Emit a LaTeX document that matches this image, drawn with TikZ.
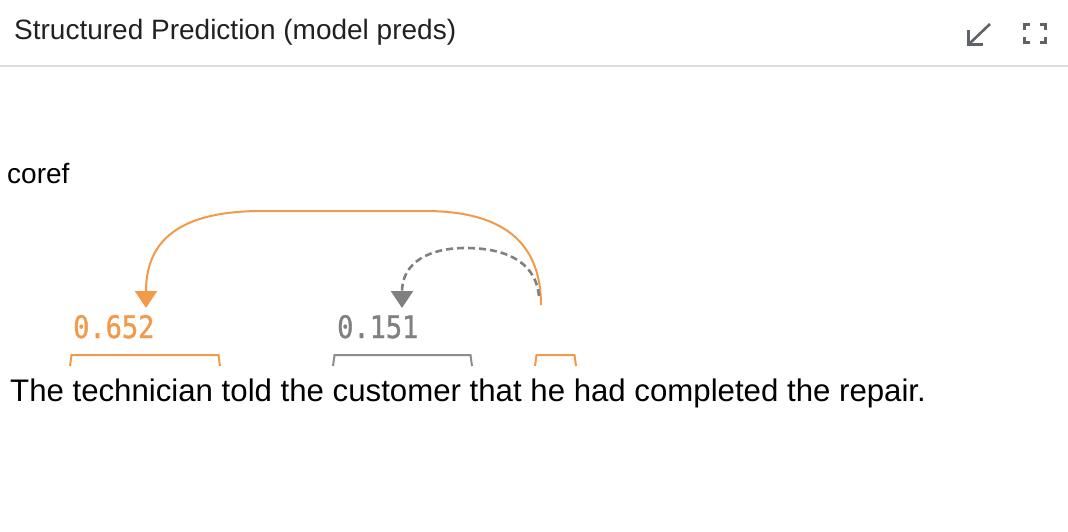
\documentclass[tikz,border=0pt]{standalone}
\usepackage{fontspec}
\setmainfont{Liberation Sans}
\newfontfamily\monofont[FakeStretch=0.87,FakeBold=1]{DejaVu Sans Mono}
\usetikzlibrary{arrows.meta}
\definecolor{corange}{HTML}{F2994A}
\definecolor{cgray}{HTML}{808080}
\definecolor{cicon}{HTML}{5F6368}
\definecolor{ctitle}{HTML}{202124}
\definecolor{csep}{HTML}{DADCE0}
\tikzset{
  txt/.style={inner sep=0pt, anchor=base west},
  score/.style={inner sep=0pt, anchor=base west, font=\monofont\fontsize{31}{34}\selectfont},
  spanbracket/.style={line width=2pt, line join=miter},
  orangearc/.style={draw=corange, line width=2pt, -{Triangle[length=17pt,width=22pt]}},
  grayarc/.style={draw=cgray, line width=2.6pt, dash pattern=on 7pt off 4pt, -{Triangle[length=17pt,width=22pt]}},
  iconline/.style={draw=cicon, line width=2.6pt}
}
\begin{document}
\begin{tikzpicture}[x=1pt,y=-1pt]
\useasboundingbox (0,0) rectangle (1068,532);
% header
\node[txt, text=ctitle, font=\fontsize{28}{32}\selectfont] (title) at (14,40) {Structured Prediction (model preds)};
\draw[csep, line width=2pt] (0,66) -- (1068,66);
% collapse icon
\draw[iconline] (990,24) -- (969,44);
\draw[iconline, line cap=butt] (968.5,30) -- (968.5,44.5) -- (983,44.5);
% fullscreen icon
\draw[iconline] (1024.5,30) -- (1024.5,24.5) -- (1030,24.5);
\draw[iconline] (1040,24.5) -- (1045.5,24.5) -- (1045.5,30);
\draw[iconline] (1024.5,37) -- (1024.5,42.5) -- (1030,42.5);
\draw[iconline] (1040,42.5) -- (1045.5,42.5) -- (1045.5,37);
% label
\node[txt, font=\fontsize{28}{32}\selectfont] (coref) at (7,183) {coref};
% sentence
\node[txt, font=\fontsize{31.2}{36}\selectfont] (sent) at (10,401) {The technician told the customer that he had completed the repair.};
% span brackets
\draw[spanbracket, corange] (70,366) -- (71.5,355) -- (218.5,355) -- (220,366);
\draw[spanbracket, cgray!90] (333,366) -- (334.5,355) -- (470.5,355) -- (472,366);
\draw[spanbracket, corange] (535,366) -- (536.5,355) -- (574.5,355) -- (576,366);
% scores
\node[score, text=corange] (s1) at (73,338) {0.652};
\node[score, text=cgray] (s2) at (337,338) {0.151};
% arc endpoints
\coordinate (heTop) at (541,305);
\coordinate (heTopG) at (539,296);
\coordinate (techTip) at (146,308);
\coordinate (custTip) at (402,308);
% arcs
\draw[orangearc] (heTop) .. controls (541,240) and (500,211) .. (425,211) -- (262,211) .. controls (180,211) and (146,240) .. (techTip);
\draw[grayarc] (heTopG) .. controls (535,258) and (500,248) .. (465,248) .. controls (430,248) and (402,262) .. (custTip);
\end{tikzpicture}
\end{document}
